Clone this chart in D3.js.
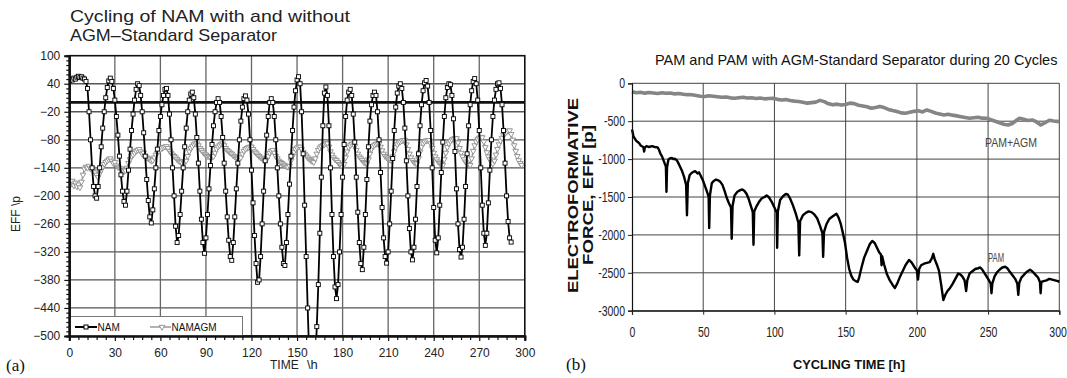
<!DOCTYPE html>
<html>
<head>
<meta charset="utf-8">
<script src="https://cdn.jsdelivr.net/npm/d3@7"></script>
<style>
  body { margin: 0; background: #fff; }
  svg { display: block; }
</style>
</head>
<body>
<svg id="chart" width="1067" height="378"></svg>
<script>
// ---------- Panel (a): NAM with and without AGM separator (hourly readings from 0 h) ----------
const namTitle = ["Cycling of NAM with and without", "AGM\u2013Standard Separator"];
const namTicksY = [100, 40, -20, -80, -140, -200, -260, -320, -380, -440, -500];
const namTicksX = [0, 30, 60, 90, 120, 150, 180, 210, 240, 270, 300];
const namSeriesNames = ["NAM", "NAMAGM"];

const namValues = [
  46, 50, 48, 52, 50, 54, 56, 53, 55, 52, 50, 45, 30,
  -20, -80, -140, -180, -200, -205,
  -180, -140, -95, -55, -20, 10, 32, 46, 52,
  45, 30, 5, -30, -70, -115, -155, -190, -212, -220,
  -190, -145, -100, -60, -25, 5, 28, 40, 36,
  15, -20, -65, -115, -165, -210, -245, -258,
  -230, -185, -140, -100, -60, -30, -5, 15, 28, 30,
  15, -25, -80, -140, -200, -265, -300,
  -285, -240, -190, -140, -95, -55, -20, 5, 18, 22,
  10, -25, -75, -130, -190, -250, -300, -323,
  -290, -240, -185, -135, -90, -50, -20, 0, 8,
  0, -30, -75, -130, -190, -245, -295, -330, -338,
  -300, -245, -185, -130, -80, -40, -10, 8, 14,
  5, -25, -80, -145, -215, -285, -345, -385,
  -380, -330, -260, -190, -125, -70, -30, 0, 8,
  0, -30, -80, -140, -200, -260, -310, -345, -349,
  -300, -240, -175, -115, -60, -10, 25, 48, 55,
  40, -20, -110, -220, -330, -440, -540, -610, -640,
  -620, -560, -480, -390, -280, -160, -50, 20, 33,
  15, -50, -140, -240, -330, -395, -420,
  -390, -320, -240, -160, -90, -30, 5, 22, 28,
  15, -25, -85, -160, -235, -300, -345, -358,
  -310, -240, -165, -95, -40, -5, 15, 22,
  15, -20, -80, -150, -225, -290, -330, -344,
  -320, -260, -190, -120, -60, -10, 20, 35, 40,
  30, 0, -55, -125, -200, -270, -320, -337,
  -310, -250, -180, -110, -50, -5, 25, 42, 47,
  35, 0, -60, -140, -225, -295, -322,
  -290, -220, -150, -85, -30, 10, 32, 40, 38,
  15, -35, -105, -185, -260, -315, -331,
  -310, -250, -180, -110, -50, -5, 25, 45, 51,
  40, 5, -60, -140, -220, -280, -306,
  -280, -215, -145, -80, -30, 5, 28, 40, 42,
  30, -5, -60, -130, -200, -255, -290, -299
];

const namagmValues = [
  -170, -175, -168, -178, -172, -180, -176, -182, -170, -155,
  -142, -138, -140, -136, -142, -140, -146, -150, -155, -160,
  -152, -145, -138, -132, -128, -125, -122, -120, -125, -130,
  -128, -135, -138, -140, -142, -145, -148, -146, -140, -130,
  -122, -115, -112, -108, -104, -102, -100, -105, -110, -108,
  -115, -118, -120, -122, -125, -124, -118, -112, -108, -104,
  -100, -98, -96, -95, -94, -98, -104, -108, -112, -115,
  -118, -122, -125, -127, -128, -126, -128, -125, -115, -105,
  -98, -94, -90, -88, -88, -92, -98, -102, -106, -110,
  -112, -115, -116, -118, -117, -115, -108, -100, -95, -92,
  -89, -88, -92, -98, -102, -105, -108, -110, -114, -116,
  -118, -120, -120, -118, -110, -104, -100, -98, -96, -95,
  -95, -100, -105, -108, -112, -115, -118, -120, -122, -124,
  -122, -115, -108, -104, -102, -108, -115, -120, -125, -128,
  -130, -133, -135, -137, -138, -136, -125, -115, -106, -100,
  -97, -95, -95, -100, -106, -110, -114, -118, -121, -124,
  -126, -128, -120, -110, -102, -97, -94, -92, -90, -88,
  -88, -95, -105, -112, -118, -122, -124, -128, -132, -135,
  -138, -132, -118, -105, -96, -92, -89, -88, -94, -102,
  -110, -116, -120, -124, -128, -130, -131, -122, -110, -100,
  -94, -91, -89, -88, -88, -95, -103, -110, -115, -118,
  -120, -122, -124, -116, -105, -96, -90, -86, -84, -82,
  -81, -81, -90, -100, -110, -118, -124, -128, -130, -131,
  -120, -106, -95, -88, -84, -82, -81, -81, -88, -98,
  -108, -116, -122, -127, -130, -133, -134, -122, -108, -96,
  -88, -83, -80, -78, -77, -77, -86, -98, -108, -116,
  -122, -127, -131, -133, -134, -120, -104, -92, -84, -79,
  -76, -74, -75, -84, -96, -107, -116, -122, -128, -131,
  -125, -112, -100, -90, -82, -76, -70, -66, -63, -61,
  -60, -68, -80, -92, -104, -115, -124, -130, -134
];

// ---------- Panel (b): PAM and PAM+AGM during 20 cycles ----------
const pamTitle = "PAM and PAM with AGM-Standard Separator during 20 Cycles";
const pamTicksY = [0, -500, -1000, -1500, -2000, -2500, -3000];
const pamTicksX = [0, 50, 100, 150, 200, 250, 300];
const pamLabels = ["PAM+AGM", "PAM"];

const pamHours = [
  0, 0.5, 1, 2, 3, 4, 5, 6, 7, 8, 8.5, 9, 10, 12, 14, 16, 18, 19, 20, 21, 22, 23, 23.8, 24.2, 24.6,
  25.5, 26.5, 28, 29, 30, 31.5, 33, 35, 36.5, 38, 38.6, 39.2, 40.5, 42, 43, 44.5, 46, 47, 48, 50,
  51.5, 53, 53.8, 54.2, 54.7, 56, 57.5, 59, 60.5, 62, 63.5, 65, 66.5, 68, 69.5, 70, 70.6, 72, 74,
  76, 77.5, 79, 80.5, 82, 83.5, 84.8, 85.3, 85.8, 87.5, 89, 91, 93, 94.5, 96, 98, 100, 101.5, 101.9,
  102.4, 104, 106, 108, 109.5, 111, 113, 115, 116.8, 117.4, 118, 120, 122, 124, 126, 128, 130, 132,
  133.7, 134.2, 134.8, 136.5, 138.5, 140.5, 142, 143.5, 145, 146.5, 148, 149.5, 151, 152.5, 154,
  155.5, 157, 158.5, 159.5, 161, 163, 165, 167, 168.7, 170.5, 172, 173.5, 174.8, 175.2, 175.6, 177,
  179, 181, 183, 184.6, 186, 188, 190, 192, 194.5, 196.5, 198.5, 200, 200.8, 201.6, 203, 205, 207,
  209, 210.5, 211.5, 212.5, 214, 215.5, 217, 218.6, 220, 221.5, 223.3, 225, 227, 229, 230.5, 232,
  233.5, 234.6, 235.4, 237, 239, 241, 243, 244.5, 246, 248, 250, 251.8, 252.4, 253, 254.5, 256, 258,
  260, 262, 263.5, 265, 267, 269, 270.5, 271.2, 271.9, 273.5, 275, 277, 279.4, 281, 283, 285, 286.4,
  286.9, 287.4, 289, 291, 293, 295, 297, 299, 300
];
const pamValues = [
  -610, -650, -700, -730, -760, -775, -790, -820, -830, -840, -900, -850, -830, -840, -830, -840, -845, -880, -930, -960, -1010, -1060, -1100, -1430, -1110,
  -1010, -990, -985, -1000, -995, -1015, -1070, -1150, -1230, -1340, -1740, -1320, -1210, -1180, -1170, -1160, -1190, -1175, -1210, -1290,
  -1370, -1450, -1500, -1910, -1480, -1320, -1285, -1270, -1280, -1300, -1340, -1420, -1510, -1580, -1640, -2050, -1620, -1480, -1430,
  -1410, -1400, -1420, -1460, -1530, -1620, -1700, -2130, -1690, -1620, -1570, -1520, -1500, -1480, -1500, -1560, -1640, -1700, -2170,
  -1690, -1540, -1490, -1460, -1470, -1520, -1610, -1720, -1840, -2270, -1820, -1740, -1710, -1690, -1700, -1730, -1780, -1880,
  -1980, -2290, -1960, -1860, -1790, -1760, -1740, -1720, -1770, -1850, -1970, -2100, -2300, -2450, -2540,
  -2590, -2610, -2620, -2560, -2440, -2300, -2210, -2120, -2080, -2110, -2170, -2230, -2260, -2400, -2280, -2390,
  -2520, -2600, -2660, -2700, -2650, -2560, -2480, -2400, -2330, -2370, -2430, -2470, -2590, -2450, -2400, -2380, -2370,
  -2360, -2310, -2250, -2320, -2390, -2470, -2650, -2860, -2790, -2740, -2700, -2650, -2580, -2510, -2520, -2550,
  -2600, -2740, -2600, -2510, -2480, -2450, -2440, -2430, -2460, -2520, -2580, -2640, -2770, -2640, -2550, -2500, -2460,
  -2430, -2420, -2440, -2480, -2530, -2580, -2640, -2790, -2630, -2560, -2530, -2490, -2460, -2480, -2520, -2560, -2620,
  -2770, -2620, -2610, -2600, -2580, -2590, -2600, -2610, -2620
];

const pamAgmHours = [
  0, 3, 6, 9, 12, 15, 18, 21, 24, 27, 30, 33, 36, 39, 42, 45, 48, 51, 54, 57, 60, 63, 66, 69, 72,
  75, 78, 81, 84, 87, 90, 93, 96, 99, 102, 105, 108, 111, 114, 117, 120, 123, 126, 129, 132, 135,
  138, 141, 144, 147, 150, 153, 156, 159, 162, 165, 168, 171, 174, 177, 180, 183, 186, 189, 192,
  195, 198, 201, 204, 207, 210, 213, 216, 219, 222, 225, 228, 231, 234, 237, 240, 243, 246, 249,
  252, 255, 258, 261, 264, 267, 270, 272, 275, 278, 281, 284, 287, 290, 293, 296, 300
];
const pamAgmValues = [
  -110, -125, -118, -130, -122, -128, -135, -125, -132, -128, -140, -135, -145, -150, -152, -160, -170, -175, -165, -172, -178, -185, -180, -192, -198,
  -190, -185, -195, -190, -200, -195, -205, -200, -198, -212, -220, -215, -228, -235, -240, -250, -262, -255, -248, -225, -242,
  -270, -284, -275, -286, -280, -262, -268, -290, -300, -310, -330, -318, -305, -320, -345, -360, -372, -390, -396,
  -382, -370, -362, -378, -352, -370, -392, -405, -418, -408, -420, -430, -440, -452, -462, -455, -448, -460, -462,
  -480, -500, -520, -540, -550, -530, -488, -462, -475, -490, -484, -510, -550, -520, -488, -498, -506
];

// ---------- drawing ----------
const svg = d3.select("#chart");

// ===== Panel (a) =====
const ax = d3.scaleLinear().domain([0, 300]).range([69.3, 524.8]);
const ay = d3.scaleLinear().domain([-500, 100]).range([336, 55.7]);
const aFont = "'Liberation Sans', Arial, sans-serif";

const pa = svg.append("g");

svg.append("defs").append("clipPath").attr("id", "clipA")
  .append("rect")
  .attr("x", ax(0)).attr("y", ay(100))
  .attr("width", ax(300) - ax(0)).attr("height", ay(-500) - ay(100));

// grid
pa.append("g").selectAll("line.h")
  .data(namTicksY.filter(v => v > -500 && v < 100))
  .join("line")
  .attr("x1", ax(0)).attr("x2", ax(300))
  .attr("y1", d => ay(d)).attr("y2", d => ay(d))
  .attr("stroke", "#555").attr("stroke-width", 1.3);
pa.append("g").selectAll("line.v")
  .data(namTicksX.filter(v => v > 0 && v < 300))
  .join("line")
  .attr("x1", d => ax(d)).attr("x2", d => ax(d))
  .attr("y1", ay(100)).attr("y2", ay(-500))
  .attr("stroke", "#666").attr("stroke-width", 1.3);

// zero reference line
pa.append("line")
  .attr("x1", ax(0)).attr("x2", ax(300))
  .attr("y1", ay(0)).attr("y2", ay(0))
  .attr("stroke", "#111").attr("stroke-width", 2.6);

// series
const plotA = pa.append("g").attr("clip-path", "url(#clipA)");
const namPts = namValues.map((v, i) => [i, v]);
const agmPts = namagmValues.map((v, i) => [i, v]);
const lineA = d3.line().x(d => ax(d[0])).y(d => ay(d[1]));

plotA.append("path").datum(agmPts).attr("d", lineA)
  .attr("fill", "none").attr("stroke", "#9a9a9a").attr("stroke-width", 1.4);
const tri = d3.symbol().type(d3.symbolTriangle).size(14);
plotA.append("g").selectAll("path")
  .data(agmPts).join("path")
  .attr("d", tri)
  .attr("transform", d => `translate(${ax(d[0])},${ay(d[1])}) rotate(180)`)
  .attr("fill", "#fff").attr("stroke", "#8c8c8c").attr("stroke-width", 0.9);

plotA.append("path").datum(namPts).attr("d", lineA)
  .attr("fill", "none").attr("stroke", "#000").attr("stroke-width", 1.8);
plotA.append("g").selectAll("rect")
  .data(namPts).join("rect")
  .attr("x", d => ax(d[0]) - 2).attr("y", d => ay(d[1]) - 2)
  .attr("width", 4).attr("height", 4)
  .attr("fill", "#fff").attr("stroke", "#000").attr("stroke-width", 0.9);

// frame
pa.append("rect")
  .attr("x", ax(0)).attr("y", ay(100))
  .attr("width", ax(300) - ax(0)).attr("height", ay(-500) - ay(100))
  .attr("fill", "none").attr("stroke", "#111").attr("stroke-width", 1.6);

// legend
const lg = pa.append("g");
lg.append("rect")
  .attr("x", ax(0)).attr("y", 316.5)
  .attr("width", 242.5 - ax(0)).attr("height", ay(-500) - 316.5)
  .attr("fill", "#fff").attr("stroke", "#777").attr("stroke-width", 1);
lg.append("line").attr("x1", 75).attr("x2", 97).attr("y1", 327).attr("y2", 327)
  .attr("stroke", "#000").attr("stroke-width", 2);
lg.append("rect").attr("x", 84).attr("y", 325).attr("width", 4).attr("height", 4)
  .attr("fill", "#fff").attr("stroke", "#000").attr("stroke-width", 1);
lg.append("text").attr("x", 97.5).attr("y", 330.5).text(namSeriesNames[0])
  .attr("font-family", aFont).attr("font-size", 10).attr("fill", "#111");
lg.append("line").attr("x1", 150).attr("x2", 171).attr("y1", 327).attr("y2", 327)
  .attr("stroke", "#999").attr("stroke-width", 1.5);
lg.append("path").attr("d", tri).attr("transform", "translate(162,327) rotate(180)")
  .attr("fill", "#fff").attr("stroke", "#888").attr("stroke-width", 0.9);
lg.append("text").attr("x", 171.5).attr("y", 330.5).text(namSeriesNames[1])
  .attr("font-family", aFont).attr("font-size", 10).attr("fill", "#111");

// axes
const fmtA = d3.format("");
pa.append("g").attr("transform", `translate(${ax(0)},0)`)
  .call(d3.axisLeft(ay).tickValues(namTicksY).tickSize(5).tickPadding(4).tickFormat(fmtA));
pa.append("g").attr("transform", `translate(${ax(0)},0)`)
  .call(d3.axisLeft(ay).tickValues(d3.range(-500, 101, 10).filter(v => !namTicksY.includes(v))).tickSize(3).tickFormat(""));
pa.append("g").attr("transform", `translate(0,${ay(-500)})`)
  .call(d3.axisBottom(ax).tickValues(namTicksX).tickSize(5).tickPadding(7).tickFormat(fmtA));
pa.append("g").attr("transform", `translate(0,${ay(-500)})`)
  .call(d3.axisBottom(ax).tickValues(d3.range(0, 301, 6).filter(v => !namTicksX.includes(v))).tickSize(4).tickFormat(""));
pa.selectAll(".domain").attr("stroke", "#111").attr("stroke-width", 2);
pa.selectAll(".tick line").attr("stroke", "#111").attr("stroke-width", 1.2);
pa.selectAll(".tick text").attr("font-family", aFont).attr("font-size", 12).attr("fill", "#222");

// titles and axis names
pa.append("text").attr("x", 70).attr("y", 22).text(namTitle[0])
  .attr("font-family", aFont).attr("font-size", 17).attr("fill", "#222")
  .attr("textLength", 280).attr("lengthAdjust", "spacingAndGlyphs");
pa.append("text").attr("x", 70).attr("y", 41).text(namTitle[1])
  .attr("font-family", aFont).attr("font-size", 17).attr("fill", "#222")
  .attr("textLength", 207).attr("lengthAdjust", "spacingAndGlyphs");
pa.append("text").attr("transform", "translate(20,214) rotate(-90)")
  .attr("text-anchor", "middle").text("EFF \\p")
  .attr("font-family", aFont).attr("font-size", 12).attr("fill", "#222");
pa.append("text").attr("x", 270).attr("y", 369).text("TIME")
  .attr("font-family", aFont).attr("font-size", 12).attr("fill", "#222");
pa.append("text").attr("x", 307).attr("y", 369).text("\\h")
  .attr("font-family", aFont).attr("font-size", 13).attr("fill", "#222");
svg.append("text").attr("x", 6).attr("y", 371).text("(a)")
  .attr("font-family", "'Liberation Serif', 'Times New Roman', serif").attr("font-size", 17).attr("fill", "#111");

// ===== Panel (b) =====
const bx = d3.scaleLinear().domain([0, 300]).range([632, 1059.3]);
const by = d3.scaleLinear().domain([-3000, 0]).range([310.7, 83.3]);
const bFont = "'Liberation Sans', Arial, sans-serif";
const pb = svg.append("g");

pb.append("g").selectAll("line")
  .data(pamTicksY).join("line")
  .attr("x1", bx(0)).attr("x2", bx(300))
  .attr("y1", d => by(d)).attr("y2", d => by(d))
  .attr("stroke", "#444").attr("stroke-width", 1);
pb.append("g").selectAll("line")
  .data(pamTicksX.filter(v => v > 0)).join("line")
  .attr("x1", d => bx(d)).attr("x2", d => bx(d))
  .attr("y1", by(0)).attr("y2", by(-3000))
  .attr("stroke", "#444").attr("stroke-width", 1);

const lineB = d3.line().x(d => bx(d[0])).y(d => by(d[1]));
pb.append("path").datum(pamAgmHours.map((h, i) => [h, pamAgmValues[i]]))
  .attr("d", lineB).attr("fill", "none")
  .attr("stroke", "#858585").attr("stroke-width", 3.6).attr("stroke-linejoin", "round");
pb.append("path").datum(pamHours.map((h, i) => [h, pamValues[i]]))
  .attr("d", lineB).attr("fill", "none")
  .attr("stroke", "#000").attr("stroke-width", 2.4).attr("stroke-linejoin", "round");

// condensed tick labels
const sx = 0.75;
const yAxisB = pb.append("g").attr("transform", `translate(${bx(0)},0)`)
  .call(d3.axisLeft(by).tickValues(pamTicksY).tickSize(4).tickFormat(d => String(d)));
yAxisB.selectAll("text").attr("x", -7 / sx).attr("transform", `scale(${sx},1)`);
const xAxisB = pb.append("g").attr("transform", `translate(0,${by(-3000)})`)
  .call(d3.axisBottom(bx).tickValues(pamTicksX).tickSize(4).tickPadding(12).tickFormat(d => String(d)));
xAxisB.selectAll("text").attr("transform", `scale(${sx},1)`);
xAxisB.selectAll(".tick").filter(d => d === 300).select("text")
  .attr("text-anchor", "end").attr("x", 7 / sx);
pb.selectAll(".domain").attr("stroke", "#111").attr("stroke-width", 1.2);
pb.selectAll(".tick line").attr("stroke", "#222");
pb.selectAll(".tick text").attr("font-family", bFont).attr("font-size", 14).attr("fill", "#222");

pb.append("text").attr("x", 655).attr("y", 65).text(pamTitle)
  .attr("font-family", bFont).attr("font-size", 14.5).attr("fill", "#111");
pb.append("text").attr("x", 985).attr("y", 147).text(pamLabels[0])
  .attr("font-family", bFont).attr("font-size", 12).attr("fill", "#444")
  .attr("textLength", 52).attr("lengthAdjust", "spacingAndGlyphs");
pb.append("text").attr("x", 988).attr("y", 262).text(pamLabels[1])
  .attr("font-family", bFont).attr("font-size", 12).attr("fill", "#444")
  .attr("textLength", 16).attr("lengthAdjust", "spacingAndGlyphs");

pb.append("text").attr("transform", "translate(578,195.5) rotate(-90)")
  .attr("text-anchor", "middle").text("ELECTROFORMATIVE")
  .attr("font-family", bFont).attr("font-weight", "bold").attr("font-size", 14).attr("fill", "#111")
  .attr("textLength", 195).attr("lengthAdjust", "spacingAndGlyphs");
pb.append("text").attr("transform", "translate(593,195) rotate(-90)")
  .attr("text-anchor", "middle").text("FORCE, EFF  [p]")
  .attr("font-family", bFont).attr("font-weight", "bold").attr("font-size", 14).attr("fill", "#111")
  .attr("textLength", 140).attr("lengthAdjust", "spacingAndGlyphs");
pb.append("text").attr("x", 849).attr("y", 369).attr("text-anchor", "middle").text("CYCLING TIME [h]")
  .attr("font-family", bFont).attr("font-weight", "bold").attr("font-size", 13).attr("fill", "#111")
  .attr("textLength", 112).attr("lengthAdjust", "spacingAndGlyphs");
svg.append("text").attr("x", 566).attr("y", 370).text("(b)")
  .attr("font-family", "'Liberation Serif', 'Times New Roman', serif").attr("font-size", 17).attr("fill", "#111");
</script>
</body>
</html>
